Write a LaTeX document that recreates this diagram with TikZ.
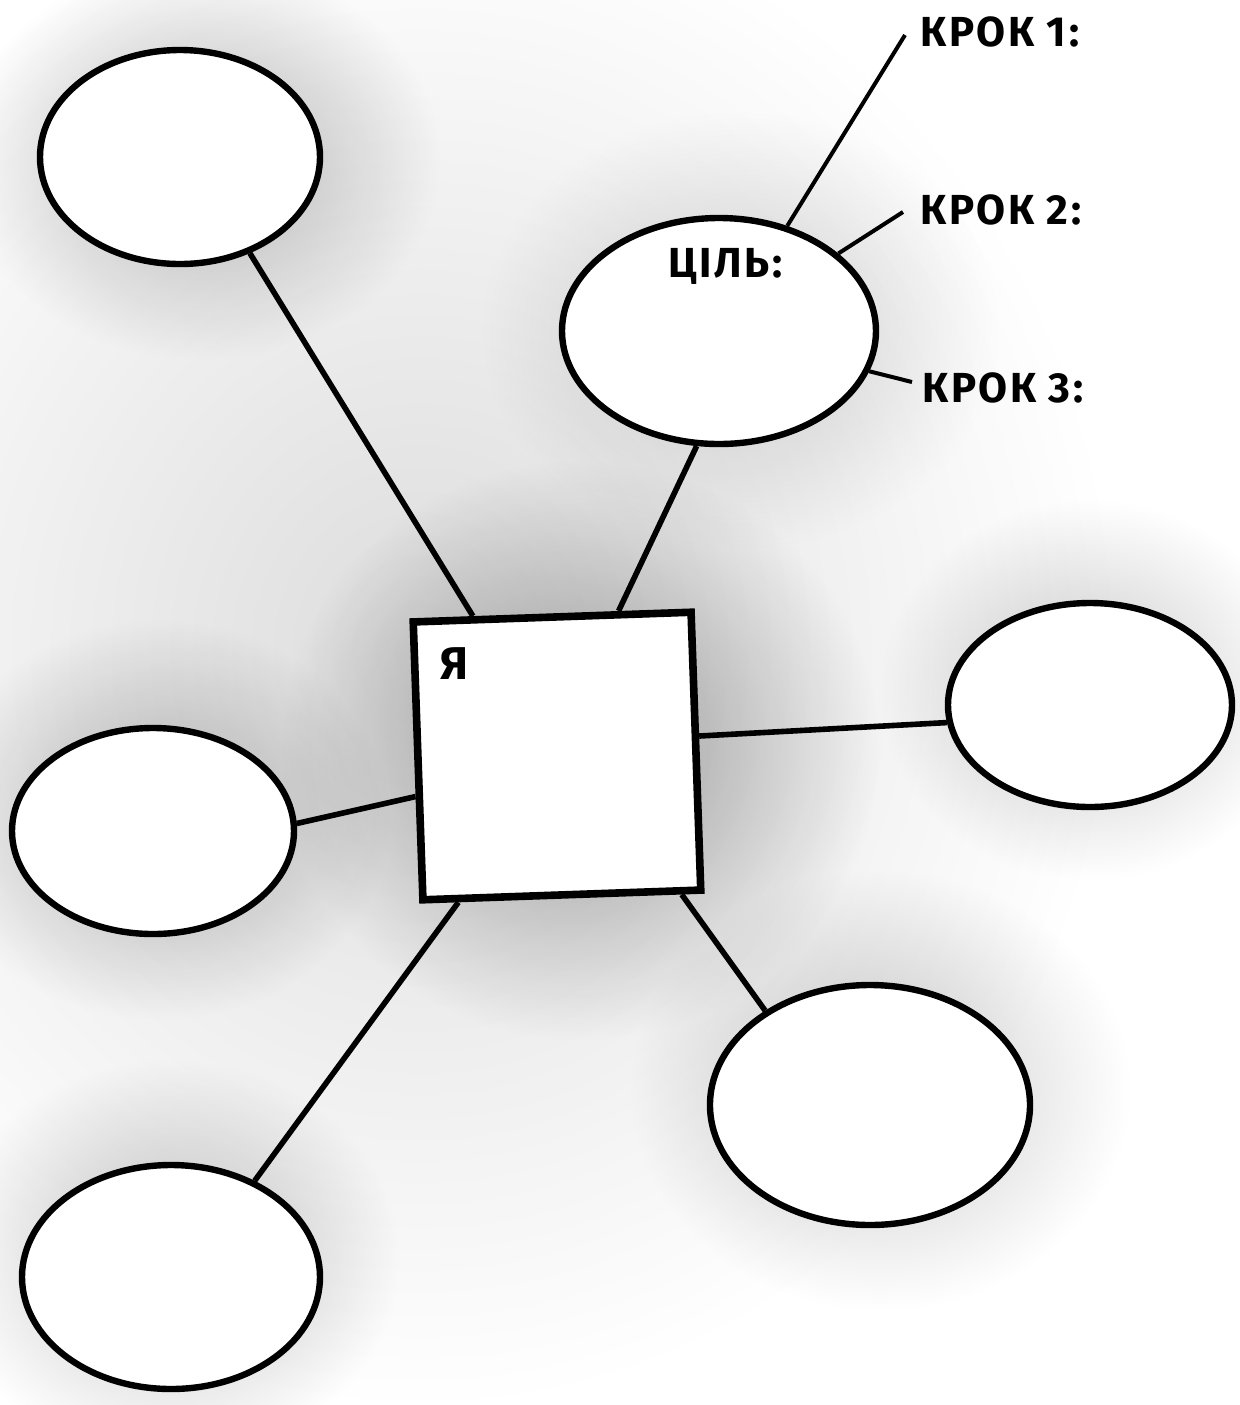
\documentclass[tikz,border=0pt]{standalone}
\usepackage{fontspec}
\newfontfamily\hand[LetterSpace=6]{Fira Sans}
\usetikzlibrary{shapes.geometric,fadings}
\tikzfading[name=softblob, inner color=transparent!15, outer color=transparent!100]
\begin{document}
\begin{tikzpicture}[x=0.5pt,y=-0.5pt,
  bubble/.style={ellipse, draw=black, line width=3.2pt, fill=white, inner sep=0pt},
  link/.style={line width=2.8pt, black},
  steplink/.style={line width=2pt, black},
  lbl/.style={font=\hand\bfseries\fontsize{21}{24}\selectfont, anchor=west, inner sep=0pt},
  blob/.style={fill=black, path fading=softblob}]
\useasboundingbox (0,0) rectangle (1240,1405);
\fill[white] (0,0) rectangle (1240,1405);
% soft grey background wash
\fill[blob, opacity=0.16] (420,650) ellipse [x radius=700, y radius=760];
\fill[blob, opacity=0.30] (200,160) ellipse [x radius=240, y radius=200];
\fill[blob, opacity=0.18] (740,330) ellipse [x radius=260, y radius=220];
\fill[blob, opacity=0.40] (580,750) ellipse [x radius=300, y radius=290];
\fill[blob, opacity=0.30] (160,820) ellipse [x radius=230, y radius=200];
\fill[blob, opacity=0.28] (170,1260) ellipse [x radius=230, y radius=200];
\fill[blob, opacity=0.25] (1090,690) ellipse [x radius=210, y radius=190];
\fill[blob, opacity=0.25] (880,1090) ellipse [x radius=250, y radius=220];
% nodes
\node[bubble, minimum width=140pt, minimum height=107pt] (tl) at (180,157) {};
\node[bubble, minimum width=157pt, minimum height=113pt] (goal) at (719,331) {};
\node[bubble, minimum width=142pt, minimum height=102pt] (right) at (1090,705) {};
\node[bubble, minimum width=141pt, minimum height=103pt] (left) at (153,831) {};
\node[bubble, minimum width=149pt, minimum height=112pt] (bl) at (171,1277) {};
\node[bubble, minimum width=160pt, minimum height=120pt] (br) at (870,1105) {};
\node[draw=black, line width=3.8pt, fill=white, minimum size=139pt, inner sep=0pt, rotate=2] (me) at (557,756) {};
% connectors
\draw[link] (tl.-54) -- (me.119);
\draw[link] (goal.259) -- (me.65);
\draw[link] (me.6) -- (right.187);
\draw[link] (me.194) -- (left.3);
\draw[link] (me.234) -- (bl.49);
\draw[link] (me.-50) -- (br.138);
% steps
\coordinate (s1) at (905,35);
\coordinate (s2) at (903,212);
\coordinate (s3) at (912,382);
\draw[steplink] (goal.57) -- (s1);
\draw[steplink] (goal.33) -- (s2);
\draw[steplink] (goal.-15) -- (s3);
\node[lbl] (k1) at (920,32) {КРОК 1:};
\node[lbl] (k2) at (920,210) {КРОК 2:};
\node[lbl] (k3) at (922,388) {КРОК 3:};
\node[lbl] (goaltxt) at (668,266) {ЦІЛЬ:};
\node[lbl, font=\hand\bfseries\fontsize{23}{26}\selectfont] (metxt) at (440,664) {Я};
\end{tikzpicture}
\end{document}
